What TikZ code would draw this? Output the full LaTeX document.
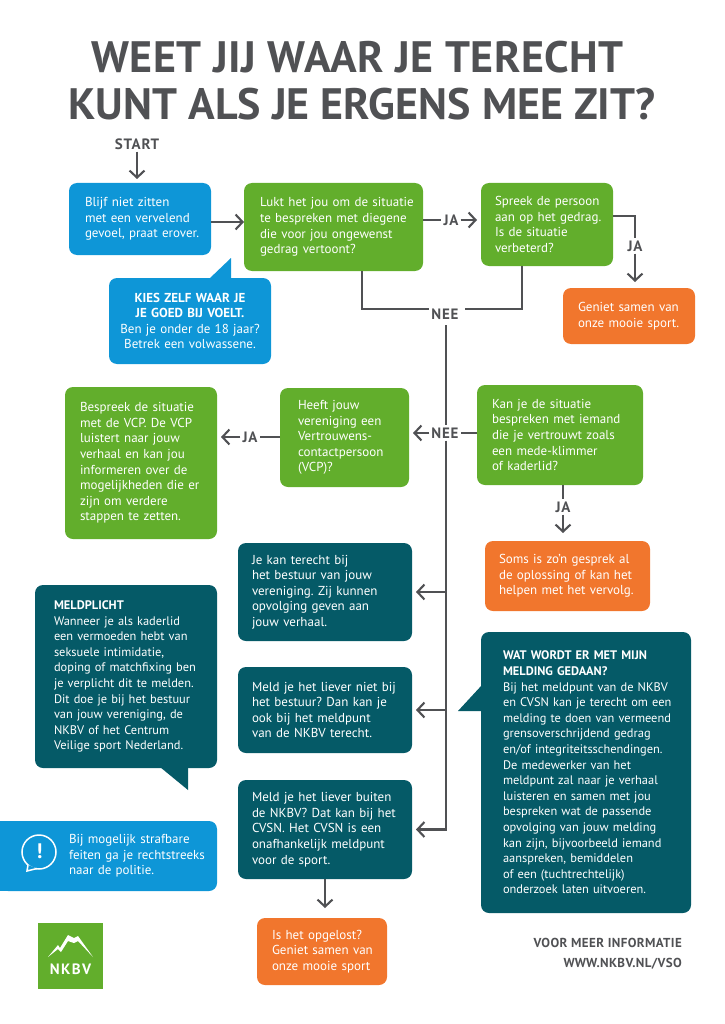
\documentclass[tikz,border=0pt]{standalone}
\usepackage{fontspec}
\usepackage{xcolor}
\usepackage{tikz}
\setmainfont{PT Sans}
\usetikzlibrary{arrows.meta, positioning}
\definecolor{nkBlue}{RGB}{14,150,215}
\definecolor{nkGreen}{RGB}{98,174,44}
\definecolor{nkOrange}{RGB}{241,118,45}
\definecolor{nkTeal}{RGB}{5,90,103}
\definecolor{nkGrey}{RGB}{80,81,84}
\newcommand{\inset}[2]{\hspace*{#1}\parbox{\dimexpr\linewidth-#1\relax}{#2}}

\begin{document}
\begin{tikzpicture}[
  x=1pt, y=-1pt,
  flowbox/.style={
    rounded corners=8pt,
    text=white,
    inner xsep=15pt,
    inner ysep=0pt,
    outer sep=0pt,
    align=left,
    font=\fontsize{13}{15.6}\selectfont\frenchspacing
  },
  bluebox/.style={flowbox, fill=nkBlue},
  greenbox/.style={flowbox, fill=nkGreen},
  orangebox/.style={flowbox, fill=nkOrange},
  tealbox/.style={flowbox, fill=nkTeal},
  tallbox/.style={tealbox, inner xsep=0pt, font=\fontsize{12.4}{15.6}\selectfont\frenchspacing},
  tag/.style={
    text=nkGrey,
    inner sep=2pt,
    font=\fontsize{15}{15}\selectfont\bfseries\addfontfeatures{LetterSpace=5}
  },
  line/.style={draw=nkGrey, line width=2.1pt},
  arr/.style={line, -{Straight Barb[length=7pt, width=15pt, line width=2.1pt]}, shorten >=4pt},
]
\useasboundingbox (0,0) rectangle (724,1024);

\node[text=nkGrey, align=center, font=\fontsize{44}{47}\selectfont\bfseries]
(title) at (362,81) {{\addfontfeatures{LetterSpace=1}WEET JIJ WAAR JE TERECHT}\hspace*{9pt}\\KUNT ALS JE ERGENS MEE ZIT?};

\node[tag] (start) at (137,144) {START};

\node[bluebox, inner xsep=0pt, text width=142pt, minimum height=72pt, anchor=north west]
(blijf) at (69,183) {\inset{16pt}{Blijf niet zitten\\met een vervelend\\gevoel, praat erover.}};

\node[greenbox, inner xsep=0pt, text width=179pt, minimum height=88pt, right=33pt of blijf.north east, anchor=north west]
(lukt) {\inset{16pt}{Lukt het jou om de situatie\\te bespreken met diegene\\die voor jou ongewenst\\gedrag vertoont?}};

\node[greenbox, inner xsep=0pt, text width=132pt, minimum height=83pt, right=58pt of lukt.north east, anchor=north west]
(spreek) {\inset{14pt}{Spreek de persoon\\aan op het gedrag.\\Is de situatie\\verbeterd?}};

\node[orangebox, text width=102pt, minimum height=56pt, below=22pt of spreek.south west, xshift=82pt, anchor=north west]
(geniet) {Geniet samen van\\onze mooie sport.};

\node[bluebox, inner xsep=6pt, text width=150pt, minimum height=86pt, align=center, below=23pt of blijf.south west, xshift=40pt, anchor=north west]
(kies) {\textbf{KIES ZELF WAAR JE}\\\textbf{JE GOED BIJ VOELT.}\\Ben je onder de 18 jaar?\\Betrek een volwassene.};
\fill[nkBlue] (209,279) -- (231,258) -- (231,279) -- cycle;

\node[greenbox, text width=136pt, minimum height=100pt, anchor=north west]
(kan) at (477,385) {Kan je de situatie\\bespreken met iemand\\die je vertrouwt zoals\\een mede-klimmer\\of kaderlid?};

\node[greenbox, inner xsep=18pt, text width=93pt, minimum height=99pt, left=68pt of kan.north west, yshift=-3pt, anchor=north east]
(heeft) {Heeft jouw\\vereniging een\\Vertrouwens-\\contactpersoon\\(VCP)?};

\node[greenbox, text width=122pt, minimum height=152pt, left=63pt of heeft.north west, yshift=1pt, anchor=north east]
(bespreek) {Bespreek de situatie\\met de VCP. De VCP\\luistert naar jouw\\verhaal en kan jou\\informeren over de\\mogelijkheden die er\\zijn om verdere\\stappen te zetten.};

\node[orangebox, inner xsep=14pt, text width=137pt, minimum height=70pt, below=56pt of kan.south west, xshift=8pt, anchor=north west]
(soms) {Soms is zo'n gesprek al\\de oplossing of kan het\\helpen met het vervolg.};

\node[tealbox, inner xsep=14pt, text width=146pt, minimum height=98pt, left=247pt of soms.north west, yshift=-2pt, anchor=north west]
(bestuur) {Je kan terecht bij\\het bestuur van jouw\\vereniging. Zij kunnen\\opvolging geven aan\\jouw verhaal.};

\node[tealbox, inner xsep=14pt, text width=146pt, minimum height=86pt, below=26pt of bestuur.south west, anchor=north west]
(liever) {Meld je het liever niet bij\\het bestuur? Dan kan je\\ook bij het meldpunt\\van de NKBV terecht.};

\node[tealbox, inner xsep=14pt, text width=146pt, minimum height=99pt, below=27pt of liever.south west, anchor=north west]
(buiten) {Meld je het liever buiten\\de NKBV? Dat kan bij het\\CVSN. Het CVSN is een\\onafhankelijk meldpunt\\voor de sport.};

\node[orangebox, inner xsep=0pt, text width=130pt, minimum height=67pt, below=39pt of buiten.south west, xshift=19pt, anchor=north west]
(opgelost) {\inset{15pt}{Is het opgelost?\\Geniet samen van\\onze mooie sport}};

\node[tallbox, text width=182pt, minimum height=183pt, left=21pt of bestuur.north west, yshift=-42pt, anchor=north east]
(meld) {\inset{19pt}{\textbf{MELDPLICHT}\\Wanneer je als kaderlid\\een vermoeden hebt van\\seksuele intimidatie,\\doping of matchfixing ben\\je verplicht dit te melden.\\Dit doe je bij het bestuur\\van jouw vereniging, de\\NKBV of het Centrum\\Veilige sport Nederland.}};
\fill[nkTeal] (160,767) -- (188,790) -- (188,767) -- cycle;

\fill[nkBlue] (0,821) rectangle (20,891);
\node[bluebox, inner xsep=0pt, text width=217pt, minimum height=70pt, below=53pt of meld.south west, xshift=-35pt, anchor=north west]
(politie) {\inset{69pt}{Bij mogelijk strafbare\\feiten ga je rechtstreeks\\naar de politie.}};
\draw[white, line width=1.5pt] (39,852) circle (17);
\draw[white, line width=1.5pt, fill=nkBlue] (28,865) -- (27,871) -- (37,868.5);
\node[text=white, inner sep=0pt, font=\fontsize{21}{21}\selectfont\bfseries] (uitroep) at (39.5,851.5) {!};

\node[tallbox, text width=210pt, minimum height=281pt, below=21pt of soms.south west, xshift=-4pt, anchor=north west]
(wat) {\inset{22pt}{\textbf{WAT WORDT ER MET MIJN}\\\textbf{MELDING GEDAAN?}\\Bij het meldpunt van de NKBV\\en CVSN kan je terecht om een\\melding te doen van vermeend\\grensoverschrijdend gedrag\\en/of integriteitsschendingen.\\De medewerker van het\\meldpunt zal naar je verhaal\\luisteren en samen met jou\\bespreken wat de passende\\opvolging van jouw melding\\kan zijn, bijvoorbeeld iemand\\aanspreken, bemiddelen\\of een (tuchtrechtelijk)\\onderzoek laten uitvoeren.}};
\fill[nkTeal] (482,685) -- (458,711) -- (482,711) -- cycle;

\node[fill=nkGreen, minimum width=65pt, minimum height=66pt, inner sep=0pt, anchor=north west]
(logo) at (38,923) {};
\fill[white] (48,957) -- (58,945) -- (60,948) -- (68,935) -- (74,938) -- (78,936) -- (93,957)
  -- (78,941) -- (74,943) -- (68,941) -- (61,952) -- (58,949) -- cycle;
\node[text=white, inner sep=0pt, font=\fontsize{15}{15}\selectfont\bfseries\addfontfeatures{LetterSpace=9}]
(nkbv) at (70.5,969) {NKBV};

\node[text=nkGrey, inner sep=0pt, align=right, anchor=north east, font=\fontsize{13}{20}\selectfont\bfseries\addfontfeatures{LetterSpace=3}]
(info) at (682,938) {VOOR MEER INFORMATIE\\WWW.NKBV.NL/VSO};

% labels on the connectors
\node[tag] (jaA) at (451,220) {JA};
\node[tag] (jaB) at (635,246) {JA};
\node[tag] (neeA) at (445,314) {NEE};
\node[tag] (neeB) at (445,433) {NEE};
\node[tag] (jaC) at (250,437) {JA};
\node[tag] (jaD) at (563,507) {JA};

\coordinate (neeleft) at (429,309);
\coordinate (neeright) at (465,309);
\coordinate (spine) at (446,325);
\coordinate (bocht) at (635,216);

\draw[arr] (start) -- (start |- blijf.north);
\draw[arr, shorten >=0pt] ([yshift=-3pt]blijf.east) -- ([yshift=-3pt]blijf.east -| lukt.west);
\draw[line] (jaA.west -| lukt.east) -- (jaA.west);
\draw[arr] (jaA.east) -- (jaA.east -| spreek.west);
\draw[line] (bocht -| spreek.east) -- (bocht) -- (jaB.north);
\draw[arr, shorten >=6pt] (jaB.south) -- (jaB.south |- geniet.north);
\draw[line] ([xshift=28.5pt]lukt.south) |- (neeleft);
\draw[line] ([xshift=-25pt]spreek.south) |- (neeright);
\draw[line] (spine) -- (spine |- neeB.north);
\draw[line] (kan.west |- neeB.east) -- (neeB.east);
\draw[arr] (neeB.west) -- (neeB.west -| heeft.east);
\draw[line] (jaC.east -| heeft.west) -- (jaC.east);
\draw[arr] (jaC.west) -- (jaC.west -| bespreek.east);
\draw[line] ([xshift=3pt]kan.south) -- (jaD.north);
\draw[arr, shorten >=8pt] (jaD.south) -- (jaD.south |- soms.north);
\draw[arr] (spine |- neeB.south) |- (buiten.east);
\draw[arr] (bestuur.east -| spine) -- (bestuur.east);
\draw[arr] (liever.east -| spine) -- (liever.east);
\draw[arr, shorten >=10pt] (buiten.south) -- (buiten.south |- opgelost.north);

\end{tikzpicture}
\end{document}
